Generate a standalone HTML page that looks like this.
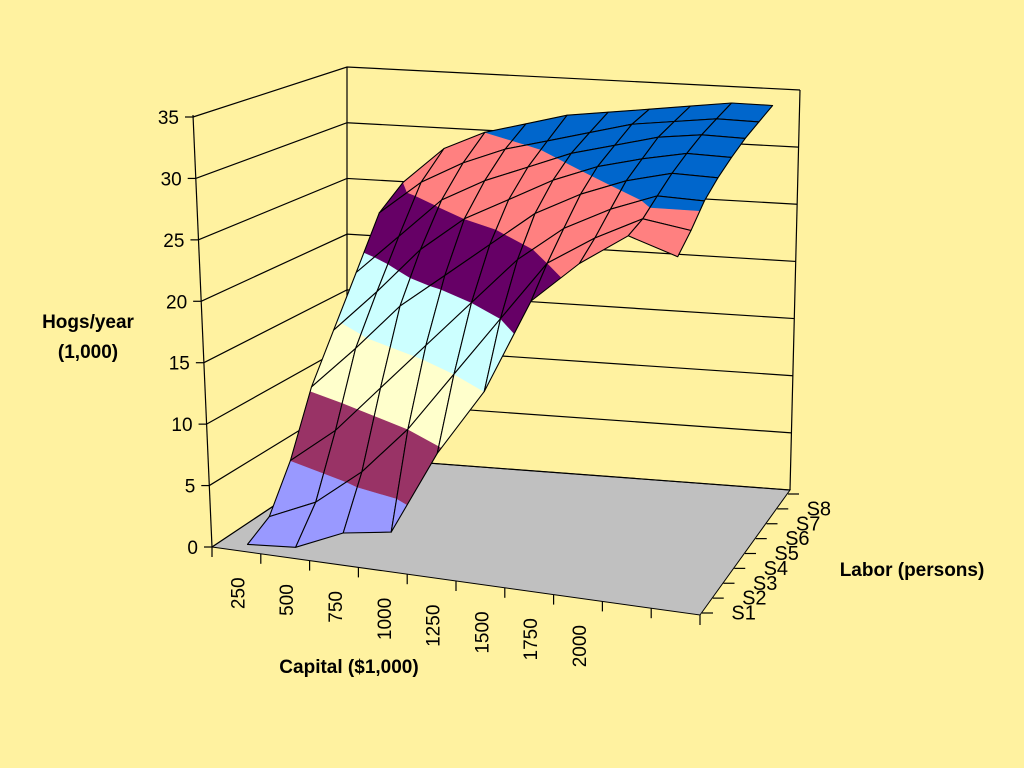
<!DOCTYPE html>
<html><head><meta charset="utf-8"><title>Hogs surface chart</title>
<style>
html,body{margin:0;padding:0;background:#FFF2A0;}
svg{display:block;font-family:"Liberation Sans",Arial,sans-serif;}
</style></head>
<body>
<svg id="chart" width="1024" height="768" viewBox="0 0 1024 768" xmlns="http://www.w3.org/2000/svg">
<rect x="0" y="0" width="1024" height="768" fill="#FFF2A0"/>
<g id="walls"></g>
<g id="surface"></g>
<g id="axes"></g>
<text x="88" y="328" font-size="19" font-weight="bold" text-anchor="middle">Hogs/year</text>
<text x="88" y="358" font-size="19" font-weight="bold" text-anchor="middle">(1,000)</text>
<text x="349" y="673" font-size="19" font-weight="bold" text-anchor="middle">Capital ($1,000)</text>
<text x="912" y="576" font-size="19" font-weight="bold" text-anchor="middle">Labor (persons)</text>
</svg>
<script>
const capitalCats = ["250","500","750","1000","1250","1500","1750","2000","2250","2500"];
const capitalLabels = ["250","500","750","1000","1250","1500","1750","2000","",""];
const laborCats = ["S1","S2","S3","S4","S5","S6","S7","S8"];
const zTicks = [0,5,10,15,20,25,30,35];
const rowS1 = [0,0.3,2,2.6,9.5,15,22.8,26.3,29,27.8];
const rowS2 = [1.3,3,6,10,15,20,25,27.5,29.5,29];
const rowS3 = [5,8,12,16,20,24,27,29,30.5,30.5];
const rowS4 = [10.3,14,18,21,24,27,29,30.5,31.5,31.5];
const rowS5 = [14.3,18,22,25,27,29,30.5,31.5,32.3,32.3];
const rowS6 = [18.5,22,25.5,27.5,29,30.5,31.5,32.5,33,33];
const rowS7 = [23,26,28,29.5,30.5,31.5,32.5,33,33.5,33.5];
const rowS8 = [25,28.3,30,31,32,32.5,33,33.5,34,34];
const rows = [rowS1,rowS2,rowS3,rowS4,rowS5,rowS6,rowS7,rowS8];
const bandColors = ['#9999FF','#993366','#FFFFCC','#CCFFFF','#660066','#FF8080','#0066CC'];

const NS = "http://www.w3.org/2000/svg";
const ZMAX = 35;
// floor corners and height vectors
const FL=[212,547], FR=[700,615], BL=[395,452], BR=[790,490];
const HFL=[-19,-432], HFR=[-5,-440], HBL=[0,-385], HBR=[10,-400];
function bil(a,b,c,d,u,v){ // a=FL b=FR c=BL d=BR
  const fx=a[0]+(b[0]-a[0])*u, fy=a[1]+(b[1]-a[1])*u;
  const bx=c[0]+(d[0]-c[0])*u, by=c[1]+(d[1]-c[1])*u;
  return [fx+(bx-fx)*v, fy+(by-fy)*v];
}
function xScale(i){return (i+0.5)/capitalCats.length;}
function yScale(j){return (j+0.5)/laborCats.length;}
function proj(u,v,z){
  const f=bil(FL,FR,BL,BR,u,v), h=bil(HFL,HFR,HBL,HBR,u,v);
  return [f[0]+h[0]*z/ZMAX, f[1]+h[1]*z/ZMAX];
}
function mk(tag,attrs,parent){const e=document.createElementNS(NS,tag);for(const k in attrs)e.setAttribute(k,attrs[k]);parent.appendChild(e);return e;}

// walls
const walls=document.getElementById('walls');
const floor=mk('polygon',{points:"212,547 700,615 790,490 347,457",fill:"#C0C0C0",stroke:"#000","stroke-width":"1"},walls);


function wallPts(z){
  const t=z/ZMAX;
  const fy=547-(547-117)*t, fx=212-19*t;
  const cy=457-(457-67)*t, cx=347;
  const ry=490-(490-90)*t, rx=790+10*t;
  return [[fx,fy],[cx,cy],[rx,ry]];
}
zTicks.forEach(z=>{
  const p=wallPts(z);
  const l=mk('polyline',{points:p.map(q=>q.join(',')).join(' '),fill:"none",stroke:"#000","stroke-width":"1.2"},walls);
  
  
});
[[193,115,212,547],[347,67,347,457],[800,90,790,490]].forEach((c,k)=>{
  const l=mk('line',{x1:c[0],y1:c[1],x2:c[2],y2:c[3],stroke:"#000","stroke-width":"1.2"},walls);
  
  
});

// surface
const surf=document.getElementById('surface');
function clip(poly,z0,above){
  const out=[];
  for(let k=0;k<poly.length;k++){
    const a=poly[k], b=poly[(k+1)%poly.length];
    const ina=above?a.z>=z0:a.z<=z0, inb=above?b.z>=z0:b.z<=z0;
    if(ina) out.push(a);
    if(ina!==inb){
      const t=(z0-a.z)/(b.z-a.z);
      out.push({u:a.u+(b.u-a.u)*t,v:a.v+(b.v-a.v)*t,z:z0});
    }
  }
  return out;
}
const cells=[];
for(let j=laborCats.length-2;j>=0;j--){
  for(let i=0;i<capitalCats.length-1;i++) cells.push([i,j]);
}
cells.forEach(([i,j])=>{
  const q=[
    {u:xScale(i),v:yScale(j),z:rows[j][i]},
    {u:xScale(i+1),v:yScale(j),z:rows[j][i+1]},
    {u:xScale(i+1),v:yScale(j+1),z:rows[j+1][i+1]},
    {u:xScale(i),v:yScale(j+1),z:rows[j+1][i]}
  ];
  const g=mk('g',{},surf);
  
  
  bandColors.forEach((col,b)=>{
    let p=clip(q,b*5,true);
    if(p.length<3) return;
    p=clip(p,(b+1)*5,false);
    if(p.length<3) return;
    const pts=p.map(o=>proj(o.u,o.v,o.z).map(n=>n.toFixed(1)).join(',')).join(' ');
    const poly=mk('polygon',{points:pts,fill:col,stroke:col,"stroke-width":"0.6","stroke-linejoin":"round"},g);
    
    
  });
  const pts=q.map(o=>proj(o.u,o.v,o.z).map(n=>n.toFixed(1)).join(',')).join(' ');
  const ol=mk('polygon',{points:pts,fill:"none",stroke:"#000","stroke-width":"1.1","stroke-linejoin":"round"},g);
  
  
});

// axes
const axes=document.getElementById('axes');
zTicks.forEach(z=>{
  const p=wallPts(z)[0];
  const t=mk('line',{x1:p[0]-8,y1:p[1],x2:p[0],y2:p[1],stroke:"#000","stroke-width":"1.2"},axes);
  
  
  const tx=mk('text',{x:p[0]-14,y:p[1]+7,"font-size":"19","text-anchor":"end"},axes);
  tx.textContent=String(z);
  
  
});
for(let k=0;k<=capitalCats.length;k++){
  const t=k/capitalCats.length;
  const x=212+(700-212)*t, y=547+(615-547)*t;
  const l=mk('line',{x1:x,y1:y,x2:x,y2:y+10,stroke:"#000","stroke-width":"1.2"},axes);
  
  
}
capitalLabels.forEach((lab,i)=>{
  if(!lab) return;
  const u=xScale(i);
  const x=212+(700-212)*u+8, y=547+(615-547)*u+27;
  const tx=mk('text',{x:0,y:0,"font-size":"19","text-anchor":"end",transform:`translate(${x.toFixed(1)},${y.toFixed(1)}) rotate(-90)`},axes);
  tx.textContent=lab;
  
  
});
for(let k=0;k<=laborCats.length;k++){
  const t=k/laborCats.length;
  const x=702+(788-702)*t, y=613+(494-613)*t;
  const l=mk('line',{x1:x,y1:y,x2:x+11,y2:y,stroke:"#000","stroke-width":"1.2"},axes);
  
  
}
laborCats.forEach((lab,j)=>{
  const t=yScale(j);
  const x=702+(788-702)*t+24, y=613+(494-613)*t+14;
  const tx=mk('text',{x:x.toFixed(1),y:y.toFixed(1),"font-size":"20"},axes);
  tx.textContent=lab;
  
  
});
</script>
</body></html>
